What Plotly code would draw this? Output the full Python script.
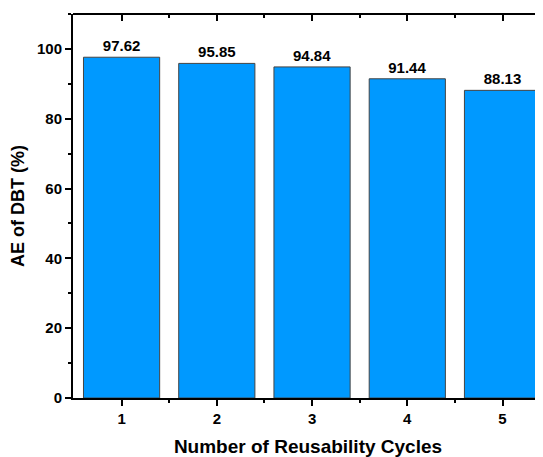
import plotly.graph_objects as go

cycles = [1, 2, 3, 4, 5]
ae_values = [97.62, 95.85, 94.84, 91.44, 88.13]
value_labels = ["97.62", "95.85", "94.84", "91.44", "88.13"]
y_ticks = [0, 20, 40, 60, 80, 100]

FONT = "Liberation Sans, Arial, sans-serif"
xr = [0.49, 5.425]

fig = go.Figure()
fig.add_trace(go.Bar(
    x=cycles, y=ae_values, width=0.8,
    marker=dict(color="#0099FF", line=dict(color="#444444", width=1)),
    text=value_labels, textposition="outside", cliponaxis=False,
    textfont=dict(family=FONT, size=15, color="black", weight="bold"),
    showlegend=False,
))
fig.add_trace(go.Scatter(x=cycles, y=ae_values, xaxis="x2", mode="markers",
                         marker=dict(opacity=0), showlegend=False, hoverinfo="skip"))

fig.update_layout(
    width=535, height=449,
    margin=dict(l=65, r=0, t=6, b=59),
    plot_bgcolor="white", paper_bgcolor="white",
    font=dict(family=FONT, color="black"),
    xaxis=dict(
        range=xr, tickvals=cycles, ticktext=[str(c) for c in cycles],
        ticks="outside", ticklen=6, tickwidth=2, tickcolor="black",
        showline=True, linewidth=2, linecolor="black",
        showgrid=False, zeroline=False, automargin=False,
        minor=dict(tickvals=[1.5, 2.5, 3.5, 4.5], ticks="outside", ticklen=3, tickwidth=2, tickcolor="black"),
        tickfont=dict(family=FONT, size=15, weight="bold"),
        title=dict(text="Number of Reusability Cycles", font=dict(family=FONT, size=19, weight="bold"), standoff=15),
    ),
    xaxis2=dict(
        overlaying="x", side="top", range=xr, tickvals=cycles, showticklabels=False,
        ticks="inside", ticklen=7, tickwidth=2, tickcolor="black",
        showline=False, showgrid=False, zeroline=False, automargin=False,
        minor=dict(tickvals=[1.5, 2.5, 3.5, 4.5], ticks="inside", ticklen=4, tickwidth=2, tickcolor="black"),
    ),
    yaxis=dict(
        range=[0, 110], tickvals=y_ticks,
        ticks="outside", ticklen=6, tickwidth=2, tickcolor="black",
        showline=True, linewidth=2, linecolor="black",
        showgrid=False, zeroline=False, automargin=False,
        minor=dict(dtick=10, ticks="outside", ticklen=3, tickwidth=2, tickcolor="black"),
        tickfont=dict(family=FONT, size=15, weight="bold"),
        title=dict(text="AE of DBT (%)", font=dict(family=FONT, size=18, weight="bold"), standoff=10),
    ),
    shapes=[dict(type="line", xref="paper", yref="paper", x0=0, x1=1, y0=1, y1=1,
                 line=dict(color="black", width=2), layer="above")],
)

fig.write_html("out.html")
